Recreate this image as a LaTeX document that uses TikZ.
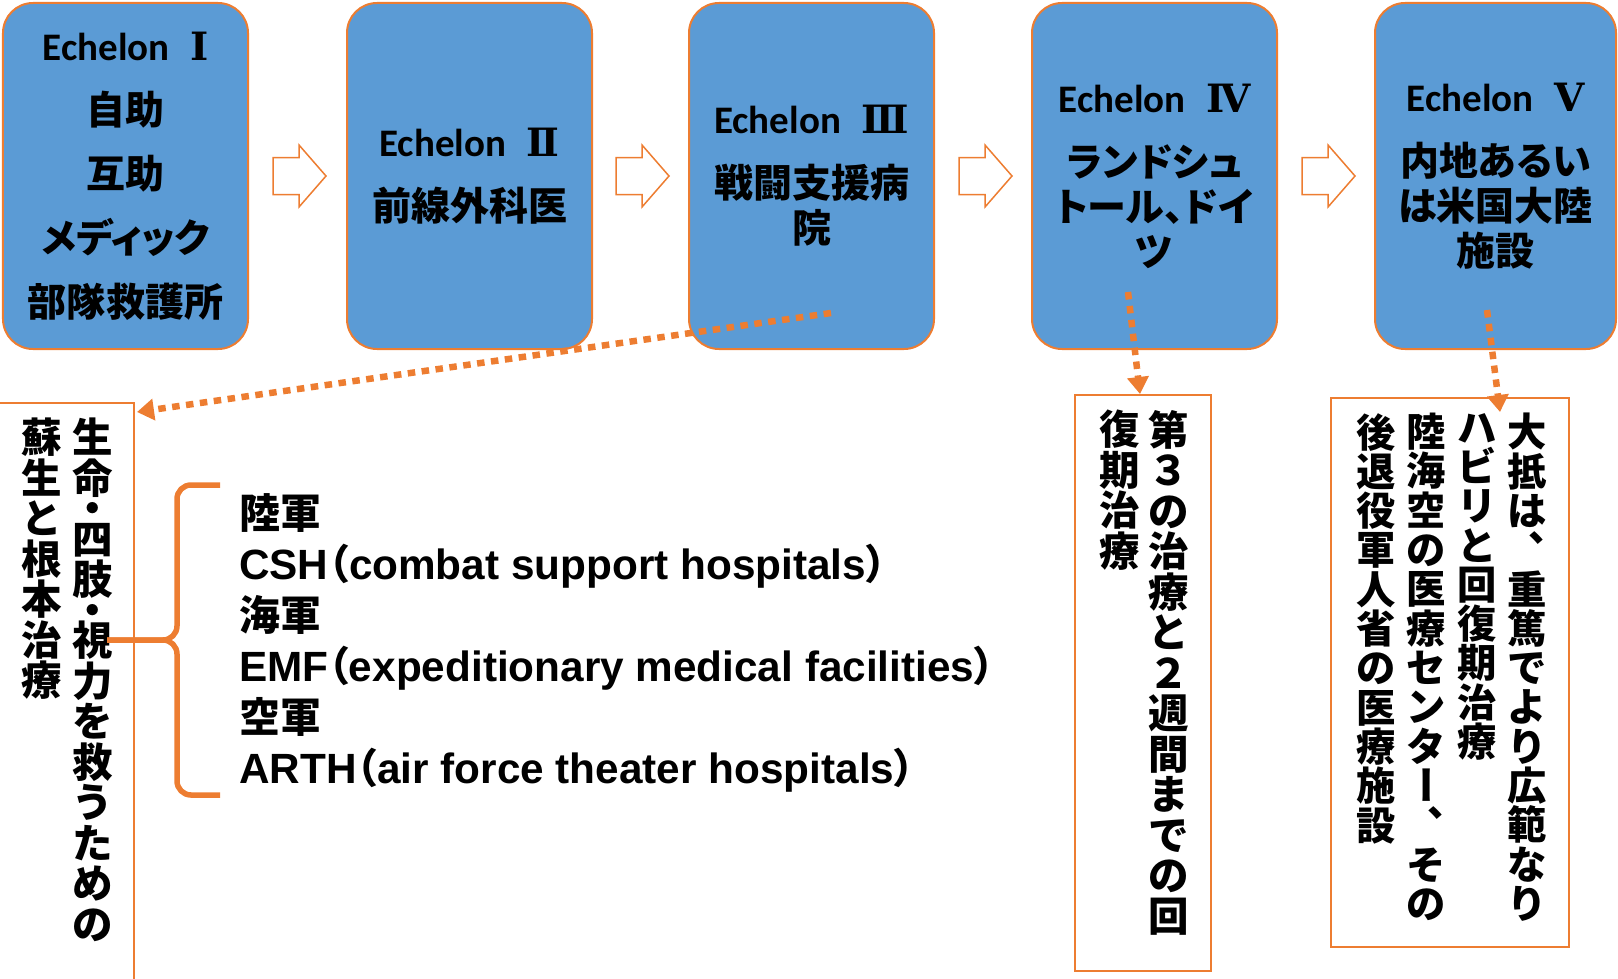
\documentclass[tikz,border=0pt]{standalone}
\usepackage{fontspec}
\usepackage{graphicx}
\setmainfont{Liberation Sans}
\newfontfamily\jpfont{Noto Sans CJK JP}
\newfontfamily\jpp{Noto Sans CJK JP}[RawFeature=+palt]
\newfontfamily\calfont{Carlito}
\newfontfamily\numfont{DejaVu Serif}
\usetikzlibrary{arrows.meta}
\definecolor{boxblue}{HTML}{5B9BD5}
\definecolor{orng}{HTML}{ED7D31}
\newcommand\vchoon{\rotatebox[origin=c]{-90}{\makebox[1em]{\rule[-0.12em]{0pt}{1em}ー}}}
\newcommand\vtouten{\makebox[1em][l]{\hspace{0.55em}\raisebox{0.6em}{、}}}
\newcommand\ech[1]{{\calfont\bfseries Echelon }\hspace{0.3em}{\numfont\bfseries #1}}
\newcommand\jsz{\jpp\fontsize{41bp}{51bp}\selectfont}
\tikzset{
  ebox/.style={draw=orng, line width=2bp, fill=boxblue, rounded corners=30bp,
    minimum width=245bp, minimum height=346bp, align=center, inner sep=0pt,
    text=black, font=\jpp\bfseries\fontsize{39bp}{45bp}\selectfont},
  tbox/.style={draw=orng, line width=1.5bp, inner sep=0pt},
  vcol/.style={inner sep=0pt, anchor=north, align=center, text=black,
    font=\jpfont\bfseries\fontsize{#1}{#1}\selectfont},
  vcol/.default=40bp,
  conn/.style={draw=orng, line width=6.5bp, dash pattern=on 7.5bp off 6.5bp,
    -{Triangle[length=17bp,width=21bp]}},
  brace/.style={draw=orng, line width=5.5bp, rounded corners=14bp},
  blockarr/.pic={\draw[draw=orng, fill=white, line width=1.5bp]
    (0,-18.5) -- (26,-18.5) -- (26,-31) -- (53,0) -- (26,31) -- (26,18.5) -- (0,18.5) -- cycle;}
}
\begin{document}
\lineskiplimit=-100bp
\lineskip=0pt
\begin{tikzpicture}[x=1bp,y=-1bp]
\path[use as bounding box] (0,0) rectangle (1618,978);
\clip (0,0) rectangle (1618,978);

% top boxes
\node[ebox] (b1) at (125.5,176) {\ech{Ⅰ}\\[19bp]自助\\[19bp]互助\\[19bp]メディック\\[19bp]部隊救護所};
\node[ebox] (b2) at (469.5,176) {\ech{Ⅱ}\\[19bp]前線外科医};
\node[ebox] (b3) at (811.5,176) {\ech{Ⅲ}\\[19bp]戦闘支援病\\院};
\node[ebox] (b4) at (1154.5,176) {\ech{Ⅳ}\\[19bp]ランドシュ\\トール、ドイ\\ツ};
\node[ebox, minimum width=241bp] (b5) at (1495.5,176) {\ech{Ⅴ}\\[19bp]内地あるい\\は米国大陸\\施設};

% block arrows
\pic (a1) at (273,176) {blockarr};
\pic (a2) at (616,176) {blockarr};
\pic (a3) at (959,176) {blockarr};
\pic (a4) at (1302,176) {blockarr};

% text frames
\node[tbox, minimum width=154bp, minimum height=597bp] (r3) at (57,701.5) {};
\node[tbox, minimum width=136bp, minimum height=576bp] (r4) at (1143,683) {};
\node[tbox, minimum width=238bp, minimum height=549bp] (r5) at (1450,672.5) {};

% vertical texts
\node[vcol=40.5bp] (c31) at (93,418) {生\\命\\[-10bp]・\\[-10bp]四\\肢\\[-10bp]・\\[-10bp]視\\力\\を\\救\\う\\た\\め\\の};
\node[vcol=40.5bp] (c32) at (42,418) {蘇\\生\\と\\根\\本\\治\\療};

\node[vcol=40.5bp] (c41) at (1169,410) {第\\３\\の\\治\\療\\と\\２\\週\\間\\ま\\で\\の\\回};
\node[vcol=40.5bp] (c42) at (1120,410) {復\\期\\治\\療};

\node[vcol=39.3bp] (c51) at (1527,413) {大\\抵\\は\\\vtouten\\重\\篤\\で\\よ\\り\\広\\範\\な\\り};
\node[vcol=39.3bp] (c52) at (1477,413) {ハ\\ビ\\リ\\と\\回\\復\\期\\治\\療};
\node[vcol=39.3bp] (c53) at (1426,413) {陸\\海\\空\\の\\医\\療\\セ\\ン\\タ\\\vchoon\\\vtouten\\そ\\の};
\node[vcol=39.3bp] (c54) at (1376,413) {後\\退\\役\\軍\\人\\省\\の\\医\\療\\施\\設};

% brace and list
\draw[brace] (220,485) -| (177,640) -- (107,640);
\draw[brace] (220,795) -| (177,640) -- (107,640);
\node[anchor=west, align=left, inner sep=0pt, text=black,
  font=\bfseries\fontsize{42.3bp}{51bp}\selectfont] (lst) at (239,643)
  {{\jsz 陸軍}\\
   CSH{\jsz （}combat support hospitals{\jsz ）}\\
   {\jsz 海軍}\\
   EMF{\jsz （}expeditionary medical facilities{\jsz ）}\\
   {\jsz 空軍}\\
   ARTH{\jsz （}air force theater hospitals{\jsz ）}};

% dotted connectors
\coordinate (s3) at (831,313);
\coordinate (t3) at (137,412);
\coordinate (s4) at (1128,292);
\coordinate (t4) at (1140,394);
\coordinate (s5) at (1487,310);
\coordinate (t5) at (1500,412);
\draw[conn] (s3) -- (t3);
\draw[conn] (s4) -- (t4);
\draw[conn] (s5) -- (t5);
\end{tikzpicture}
\end{document}
